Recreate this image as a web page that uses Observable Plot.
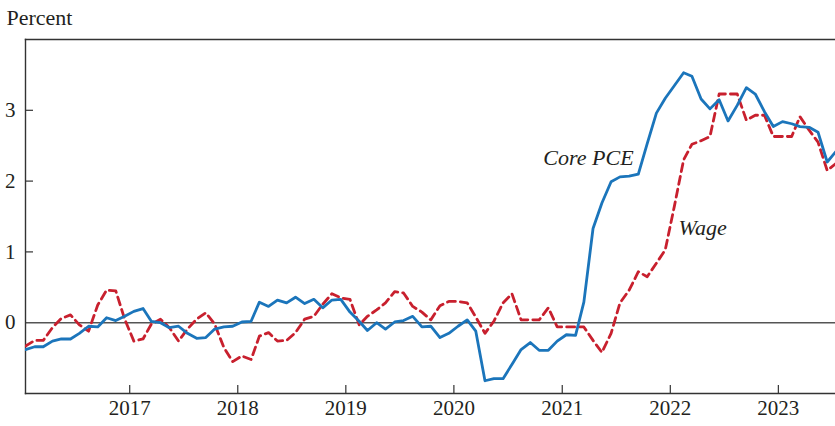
<!DOCTYPE html>
<html>
<head>
<meta charset="utf-8">
<script src="https://cdn.jsdelivr.net/npm/d3@7"></script>
<script src="https://cdn.jsdelivr.net/npm/@observablehq/plot@0.6"></script>
<style>
  html, body { margin: 0; padding: 0; background: #fff; }
  svg { display: block; }
</style>
</head>
<body>
<div id="chart"></div>
<script>
// Monthly observations, Jan 2016 – Jul 2023 (plotted mid-month)
const startMonth = "2016-01-15";
const coreCPE = [
  -0.38, -0.34, -0.34, -0.26, -0.23, -0.23, -0.15, -0.05, -0.06, 0.07, 0.03, 0.09,
  0.16, 0.20, 0.02, 0.00, -0.07, -0.05, -0.15, -0.22, -0.21, -0.09, -0.06, -0.05,
  0.01, 0.02, 0.29, 0.23, 0.32, 0.28, 0.36, 0.27, 0.33, 0.21, 0.32, 0.33,
  0.15, 0.02, -0.11, 0.00, -0.09, 0.01, 0.03, 0.09, -0.06, -0.05, -0.21, -0.15,
  -0.05, 0.04, -0.12, -0.82, -0.79, -0.79, -0.59, -0.38, -0.28, -0.39, -0.39, -0.26,
  -0.17, -0.18, 0.29, 1.33, 1.69, 1.99, 2.06, 2.07, 2.10, 2.53, 2.96, 3.17,
  3.35, 3.53, 3.48, 3.16, 3.02, 3.15, 2.85, 3.07, 3.32, 3.23, 2.98, 2.77,
  2.84, 2.81, 2.77, 2.76, 2.69, 2.27, 2.42
];
const wage = [
  -0.33, -0.25, -0.25, -0.07, 0.06, 0.11, -0.03, -0.12, 0.25, 0.46, 0.45, 0.05,
  -0.26, -0.23, -0.02, 0.05, -0.07, -0.26, -0.09, 0.05, 0.14, -0.02, -0.35, -0.55,
  -0.47, -0.52, -0.19, -0.14, -0.26, -0.25, -0.14, 0.05, 0.09, 0.26, 0.41, 0.35,
  0.33, -0.03, 0.09, 0.18, 0.28, 0.44, 0.42, 0.23, 0.15, 0.04, 0.24, 0.30,
  0.30, 0.28, 0.08, -0.15, 0.02, 0.28, 0.41, 0.04, 0.04, 0.04, 0.21, -0.06,
  -0.06, -0.06, -0.06, -0.25, -0.42, -0.15, 0.28, 0.46, 0.72, 0.65, 0.84, 1.03,
  1.65, 2.30, 2.52, 2.57, 2.63, 3.23, 3.23, 3.23, 2.86, 2.93, 2.93, 2.63,
  2.63, 2.63, 2.91, 2.72, 2.55, 2.15, 2.25
];
const yearTicks = [2017, 2018, 2019, 2020, 2021, 2022, 2023];
const yTickValues = [0, 1, 2, 3];
const pceLabel = {name: "Core PCE", date: "2021-08-30", value: 2.32};
const wageLabel = {name: "Wage", date: "2022-01-29", value: 1.34};

const start = new Date(startMonth);
const dates = coreCPE.map((_, i) => d3.utcMonth.offset(start, i));
const pce = coreCPE.map((v, i) => ({date: dates[i], value: v}));
const wg = wage.map((v, i) => ({date: dates[i], value: v}));
const tickDates = yearTicks.map(y => new Date(Date.UTC(y, 0, 1)));
const asDatum = d => [{...d, date: new Date(d.date)}];

const W = 835, H = 426;
const mL = 25, mR = 0, mT = 39, mB = 33;
const plotW = W - mL - mR, plotH = H - mT - mB;
const font = "'Liberation Serif', 'Times New Roman', serif";
const ink = "#231f20";

const chart = Plot.plot({
  width: W, height: H,
  marginLeft: mL, marginRight: mR, marginTop: mT, marginBottom: mB,
  style: {fontFamily: font, fontSize: "21px", color: ink, background: "#fff"},
  x: {type: "utc", domain: [new Date("2016-01-15"), new Date("2023-07-13")]},
  y: {domain: [-1, 4]},
  marks: [
    Plot.ruleY([0], {stroke: "#555", strokeWidth: 1.4}),
    Plot.frame({anchor: "top", stroke: "#333", strokeWidth: 1.4}),
    Plot.frame({anchor: "left", stroke: "#333", strokeWidth: 1.4}),
    Plot.frame({anchor: "bottom", stroke: "#333", strokeWidth: 1.4}),
    Plot.tickY(yTickValues.filter(d => d !== 0), {y: d => d, stroke: "#333", strokeWidth: 1.2, insetRight: plotW - 8}),
    Plot.tickX(tickDates, {x: d => d, stroke: "#333", strokeWidth: 1.2, insetTop: plotH - 8}),
    Plot.axisY(yTickValues, {tickSize: 0, tickPadding: 10, fontSize: 21, fill: ink, label: null, tickFormat: d => String(d)}),
    Plot.axisX(tickDates, {tickSize: 0, tickPadding: 7, fontSize: 21, fill: ink, label: null, tickFormat: d => String(d.getUTCFullYear())}),
    Plot.line(wg, {x: "date", y: "value", stroke: "#c8202e", strokeWidth: 2.8, strokeDasharray: "8,5", clip: true}),
    Plot.line(pce, {x: "date", y: "value", stroke: "#1b75bb", strokeWidth: 2.8, clip: true}),
    Plot.text(asDatum(pceLabel), {x: "date", y: "value", text: "name", textAnchor: "end", fontStyle: "italic", fontSize: 22, fill: ink}),
    Plot.text(asDatum(wageLabel), {x: "date", y: "value", text: "name", textAnchor: "start", fontStyle: "italic", fontSize: 22, fill: ink}),
    Plot.text(["Percent"], {frameAnchor: "top-left", dx: -19, dy: -30, textAnchor: "start", fontSize: 22, fill: ink})
  ]
});
document.getElementById("chart").appendChild(chart);
</script>
</body>
</html>
